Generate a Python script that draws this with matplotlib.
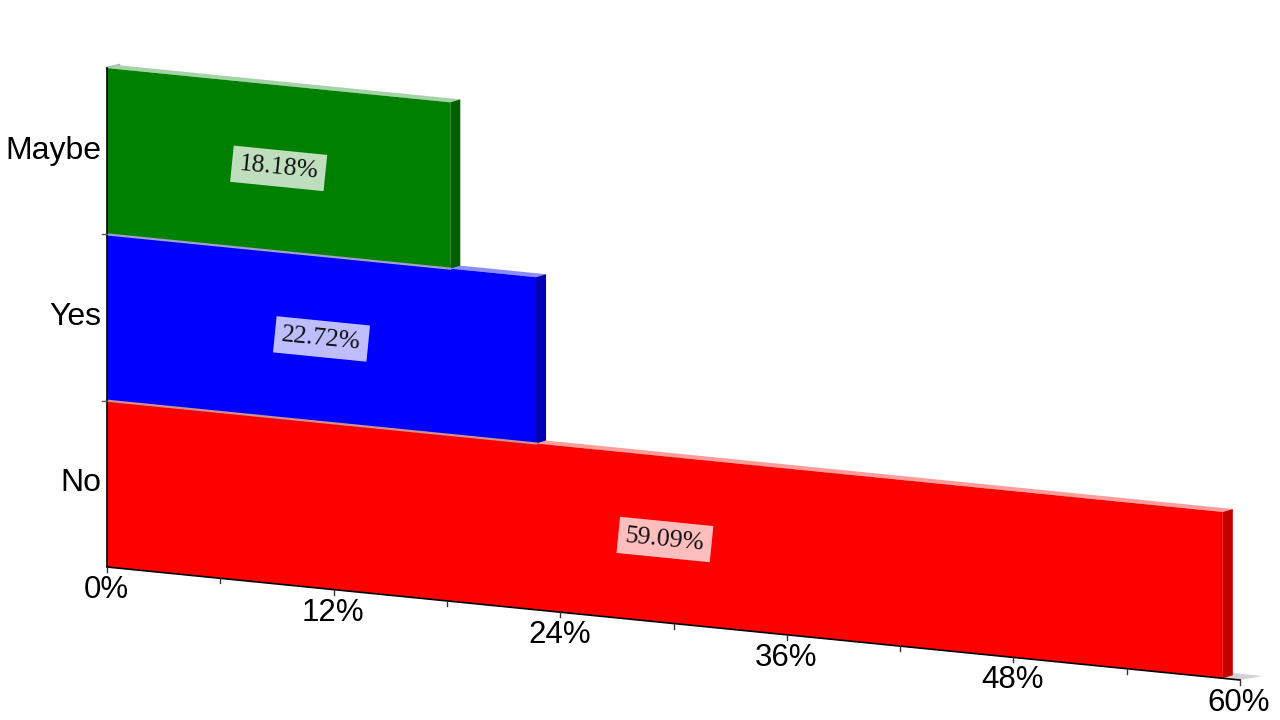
import numpy as np
import matplotlib
matplotlib.use("Agg")
import matplotlib.pyplot as plt
from matplotlib.transforms import Affine2D, offset_copy
from matplotlib.patches import Polygon

# ---- data ----
categories = ["No", "Yes", "Maybe"]
values = [59.09, 22.72, 18.18]
face_colors = ["#ff0000", "#0000ff", "#008000"]
top_colors = ["#ff9c9c", "#8c8cff", "#a6d3a6"]
side_colors = ["#c40000", "#0000b4", "#006000"]
x_ticks = [0, 12, 24, 36, 48, 60]
x_tick_labels = ["0%", "12%", "24%", "36%", "48%", "60%"]
x_minor = [6, 18, 30, 42, 54]

# ---- layout (pixel space of a 1280x720 canvas) ----
XMAX = 60.0
x0, y0 = 107.0, 720 - 567.0          # origin of value axis
x_len, y_drop = 1133.0, 113.0        # extent and slope of value axis
band_h = 166.3                       # height of one category band
sx = x_len / XMAX
k = y_drop / XMAX

fig = plt.figure(figsize=(12.8, 7.2), dpi=100)
ax = fig.add_axes([0, 0, 1, 1])
ax.set_xlim(0, 1280)
ax.set_ylim(0, 720)
ax.set_autoscale_on(False)
ax.axis("off")

A = Affine2D(np.array([[sx, 0.0, x0], [-k, band_h, y0], [0, 0, 1]]))
T = A + ax.transData


def depth(ddx, ddy):
    dv = ddx / sx
    db = (ddy + k * dv) / band_h
    return dv, db


dv, db = depth(10, 3)
fdv, fdb = depth(22, 4)

# floor
ax.add_patch(Polygon([(0, 0), (XMAX, 0), (XMAX + fdv, fdb), (fdv, fdb)],
                     closed=True, transform=T, fc="#d2d2d2", ec="none", zorder=1))
# wall top edge
ax.plot([0, dv * 1.2], [3, 3 + db], transform=T, color="#b0b0b0", lw=2, zorder=1)

# bars (bottom band first)
for i, (cat, v) in enumerate(zip(categories, values)):
    b = float(i)
    z = 3 + i
    ax.barh(b, v, height=1.0, left=0, align="edge", color=face_colors[i],
            transform=T, zorder=z + 0.2, linewidth=0)
    # top face
    ax.add_patch(Polygon([(0, b + 1), (dv, b + 1 + db), (v + dv, b + 1 + db), (v, b + 1)],
                         closed=True, transform=T, fc=top_colors[i], ec="none", zorder=z))
    # side face
    ax.add_patch(Polygon([(v, b), (v + dv, b + db), (v + dv, b + 1 + db), (v, b + 1)],
                         closed=True, transform=T, fc=side_colors[i], ec="none", zorder=z))
    # boundary highlight where the next bar sits on this one
    if i < len(categories) - 1:
        ax.plot([0, min(v, values[i + 1])], [b + 1, b + 1], transform=T,
                color="#a0a0c8" if i == 1 else "#d09090", lw=1.6, zorder=z + 1.5)

# data labels
ang = -np.degrees(np.arctan(k / sx))
for i, v in enumerate(values):
    ax.text(v / 2, i + 0.5, f"{v:.2f}%", transform=T, ha="center", va="center",
            rotation=ang, rotation_mode="anchor", fontsize=18.5,
            family=["Liberation Serif", "DejaVu Serif"], color="#111111", zorder=20,
            bbox=dict(boxstyle="square,pad=0.28", fc="white", alpha=0.75, ec="none"))

# axes lines
ax.plot([0, 0], [0, len(categories)], transform=T, color="black", lw=1.2, zorder=15)
ax.plot([0, XMAX], [0, 0], transform=T, color="black", lw=1.2, zorder=15)

# x ticks
for t in sorted(x_ticks + x_minor):
    p = A.transform((t, 0))
    ax.plot([p[0], p[0]], [p[1], p[1] - 5], color="#333333", lw=1, zorder=15)
lab_tr = offset_copy(T, fig=fig, x=-1, y=-23, units="dots")
for t, lab in zip(x_ticks, x_tick_labels):
    ax.text(t, 0, lab, transform=lab_tr, ha="center", va="center", fontsize=22.5,
            family=["Liberation Sans", "DejaVu Sans"], color="black")

# y ticks and labels
for b in range(1, len(categories)):
    p = A.transform((0, b))
    ax.plot([p[0] - 5, p[0]], [p[1], p[1]], color="#555555", lw=1, zorder=15)
cat_tr = offset_copy(T, fig=fig, x=-6, y=4, units="dots")
for i, cat in enumerate(categories):
    ax.text(0, i + 0.5, cat, transform=cat_tr, ha="right", va="center_baseline",
            fontsize=23, family=["Liberation Sans", "DejaVu Sans"], color="black")

fig.savefig("out.png", dpi=100, facecolor="white")
